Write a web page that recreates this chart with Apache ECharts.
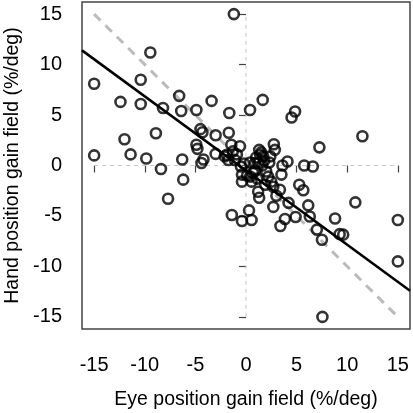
<!DOCTYPE html>
<html>
<head>
<meta charset="utf-8">
<script src="https://cdn.jsdelivr.net/npm/echarts@6/dist/echarts.min.js"></script>
<style>html,body{margin:0;padding:0;background:#fff}#c{width:413px;height:413px}</style>
</head>
<body>
<div id="c"></div>
<script>
// Eye position gain field (x) and hand position gain field (y), %/deg
const eyeGain = [
  -9.45,-15.0,-10.4,-12.4,-10.4,-8.2,-6.6,-6.4,-4.9,-3.4,
  -8.9,-12.0,-15.0,-11.4,-9.85,-6.3,-8.4,-7.7,-6.2,-4.9,
  -4.8,-4.5,-4.3,-4.2,-4.4,-1.2,-1.65,0.4,1.65,4.5,
  4.85,-3.0,-1.7,-1.45,-0.6,-1.3,-3.0,-2.1,-1.75,-1.1,
  -0.5,-0.4,-0.4,0.4,0.55,0.9,0.7,1.3,1.4,1.2,
  1.7,2.75,2.85,2.0,2.2,3.5,1.2,1.3,2.5,2.7,
  3.35,4.1,3.6,5.75,6.6,7.25,11.5,5.26,5.66,6.15,
  4.2,2.7,0.3,-1.4,-0.4,0.55,3.85,3.4,4.9,6.3,
  7.0,7.5,8.8,9.25,9.6,10.8,15.0,15.0,7.55,1.5,
  1.8,1.0,0.4,-0.2,2.3,-1.9,0.9,1.6,1.9,0.1,
  -0.9,2.4,1.1,3.0
];
const handGain = [
  11.2,8.1,8.5,6.3,6.1,5.7,6.9,5.4,5.5,6.4,
  3.2,2.6,1.0,1.1,0.7,0.6,-0.35,-3.3,-1.4,2.05,
  1.65,3.6,3.3,0.6,0.25,15.0,5.2,5.5,6.5,4.75,
  5.35,3.0,3.25,2.05,1.9,1.4,1.15,0.9,0.55,0.55,
  -0.1,-0.9,-1.6,-1.1,-1.6,0.25,-0.75,1.55,1.05,0.25,
  0.9,2.1,1.55,-0.6,-1.1,-0.9,-2.6,-3.2,-1.6,-2.1,
  -2.4,0.4,0.0,0.0,-0.1,1.8,2.9,-1.9,-2.45,-3.95,
  -3.7,-4.1,-4.45,-4.9,-5.5,-5.4,-5.3,-6.0,-5.1,-5.05,
  -6.35,-7.35,-5.25,-6.8,-6.85,-3.65,-5.4,-9.5,-15.0,1.3,
  0.5,0.8,0.3,0.2,0.3,1.06,-0.5,0.0,-1.9,-1.0,
  1.1,0.9,-1.3,-3.0
];
const tickValues = [-15,-10,-5,0,5,10,15];
const axisRange = [-16.2, 16.2];
const refSpan = [-15, 15];
const fitSlope = -0.735;
const fitIntercept = -0.5;

const points = eyeGain.map((x,i)=>[x, handGain[i]]);
const fitData = axisRange.map(x=>[x, fitIntercept + fitSlope*x]);
const identityData = refSpan.map(x=>[x, -x]);
const hZero = refSpan.map(x=>[x, 0]);
const vZero = refSpan.map(y=>[0, y]);

const font = 'Liberation Sans, Arial, Helvetica, sans-serif';
const chart = echarts.init(document.getElementById('c'), null, {renderer:'canvas'});
const lineSeries = (data, color, width, dash, z) => ({
  type:'line', data, symbol:'none', silent:true, z,
  lineStyle:{color, width, type:dash}
});
chart.setOption({
  animation:false,
  backgroundColor:'#fff',
  grid:{left:82, right:3, top:2, bottom:84, containLabel:false, outerBoundsMode:'none',
        show:true, borderColor:'#444', borderWidth:1.5, backgroundColor:'transparent'},
  xAxis:{
    type:'value', min:axisRange[0], max:axisRange[1],
    name:'Eye position gain field (%/deg)', nameLocation:'middle', nameGap:61,
    nameTextStyle:{fontFamily:font, fontSize:19.5, color:'#000'},
    axisLine:{show:false},
    splitLine:{show:false},
    axisTick:{show:true, inside:false, length:7, customValues:tickValues, lineStyle:{color:'#444', width:1.2}},
    axisLabel:{customValues:tickValues, margin:26, fontFamily:font, fontSize:20, color:'#000'}
  },
  yAxis:{
    type:'value', min:axisRange[0], max:axisRange[1],
    name:'Hand position gain field (%/deg)', nameLocation:'middle', nameGap:55, nameRotate:90,
    nameTextStyle:{fontFamily:font, fontSize:19.5, color:'#000'},
    axisLine:{show:false},
    splitLine:{show:false},
    axisTick:{show:true, inside:false, length:7, customValues:tickValues, lineStyle:{color:'#444', width:1.2}},
    axisLabel:{customValues:tickValues, margin:20, fontFamily:font, fontSize:20, color:'#000'}
  },
  series:[
    lineSeries(hZero, '#c8c8c8', 1, [4,4], 1),
    lineSeries(vZero, '#c8c8c8', 1, [4,4], 1),
    lineSeries(identityData, '#bbbbbb', 3, [9,7], 2),
    {
      type:'scatter', data:points, symbol:'circle', symbolSize:10, z:3,
      itemStyle:{color:'rgba(255,255,255,0)', borderColor:'#000', borderWidth:2.6}
    },
    lineSeries(fitData, '#000', 2.5, 'solid', 4)
  ]
});
</script>
</body>
</html>
